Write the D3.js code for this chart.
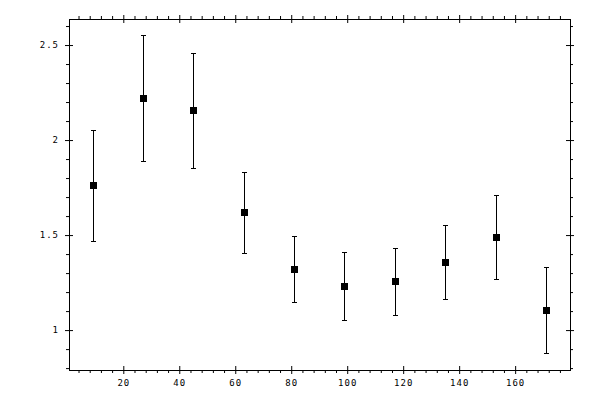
<!DOCTYPE html>
<html>
<head>
<meta charset="utf-8">
<script src="https://cdn.jsdelivr.net/npm/d3@7"></script>
<style>
  body { margin: 0; background: #fff; }
  svg { display: block; }
  .tick text { font-family: 'DejaVu Sans Mono', monospace; font-size: 9px; fill: #000; letter-spacing: 1px; }
</style>
</head>
<body>
<div id="chart"></div>
<script>
// data
const xValues = [9, 27, 45, 63, 81, 99, 117, 135, 153, 171];
const yValues = [1.762, 2.219, 2.156, 1.619, 1.319, 1.230, 1.256, 1.356, 1.488, 1.104];
const yLower  = [1.467, 1.888, 1.851, 1.404, 1.146, 1.051, 1.077, 1.162, 1.267, 0.877];
const yUpper  = [2.054, 2.553, 2.456, 1.833, 1.493, 1.409, 1.430, 1.551, 1.709, 1.330];

const xMajorTicks = [20, 40, 60, 80, 100, 120, 140, 160];
const xMinorTicks = [4, 8, 12, 16, 24, 28, 32, 36, 44, 48, 52, 56, 64, 68, 72, 76,
  84, 88, 92, 96, 104, 108, 112, 116, 124, 128, 132, 136, 144, 148, 152, 156,
  164, 168, 172, 176];
const yMajorTicks = [1, 1.5, 2, 2.5];
const yMinorTicks = [0.8, 0.9, 1.1, 1.2, 1.3, 1.4, 1.6, 1.7, 1.8, 1.9, 2.1, 2.2, 2.3, 2.4, 2.6];
const yTickLabels = ['1', '1.5', '2', '2.5'];

const data = xValues.map((x, i) => ({ x: x, y: yValues[i], lo: yLower[i], hi: yUpper[i] }));

const
  totalWidth = 600,
  totalHeight = 400;
const
  frame = {
    left: 69,
    right: 570,
    top: 19,
    bottom: 370
  };

const svg = d3.select('#chart').append('svg')
  .attr('width', totalWidth)
  .attr('height', totalHeight);

//--------------------- Scales ---------------------------------------------------
const xScale = d3.scaleLinear()
  .domain([0.6, 179.6])
  .range([frame.left, frame.right]);

const yScale = d3.scaleLinear()
  .domain([0.79, 2.637])
  .range([frame.bottom, frame.top]);

//--------------------- Axes -----------------------------------------------------
function styleAxis(g){
  g.selectAll('path').style('stroke', '#000');
  g.selectAll('line').style('stroke', '#000');
}

// bottom
svg.append('g').attr('transform', 'translate(0,' + frame.bottom + ')')
  .call(d3.axisBottom(xScale).tickValues(xMajorTicks).tickSize(4).tickSizeOuter(0).tickPadding(6).tickFormat(d3.format('d')))
  .call(styleAxis);
svg.append('g').attr('transform', 'translate(0,' + frame.bottom + ')')
  .call(d3.axisBottom(xScale).tickValues(xMajorTicks).tickSize(-4).tickSizeOuter(0).tickFormat(''))
  .call(styleAxis);
svg.append('g').attr('transform', 'translate(0,' + frame.bottom + ')')
  .call(d3.axisBottom(xScale).tickValues(xMinorTicks).tickSize(3).tickSizeOuter(0).tickFormat(''))
  .call(styleAxis);

// top
svg.append('g').attr('transform', 'translate(0,' + frame.top + ')')
  .call(d3.axisTop(xScale).tickValues(xMajorTicks).tickSize(4).tickSizeOuter(0).tickFormat(''))
  .call(styleAxis);
svg.append('g').attr('transform', 'translate(0,' + frame.top + ')')
  .call(d3.axisTop(xScale).tickValues(xMajorTicks).tickSize(-4).tickSizeOuter(0).tickFormat(''))
  .call(styleAxis);
svg.append('g').attr('transform', 'translate(0,' + frame.top + ')')
  .call(d3.axisTop(xScale).tickValues(xMinorTicks).tickSize(3).tickSizeOuter(0).tickFormat(''))
  .call(styleAxis);

// left
svg.append('g').attr('transform', 'translate(' + frame.left + ',0)')
  .call(d3.axisLeft(yScale).tickValues(yMajorTicks).tickSize(4).tickSizeOuter(0).tickPadding(6)
    .tickFormat((d, i) => yTickLabels[i]))
  .call(styleAxis);
svg.append('g').attr('transform', 'translate(' + frame.left + ',0)')
  .call(d3.axisLeft(yScale).tickValues(yMajorTicks).tickSize(-4).tickSizeOuter(0).tickFormat(''))
  .call(styleAxis);
svg.append('g').attr('transform', 'translate(' + frame.left + ',0)')
  .call(d3.axisLeft(yScale).tickValues(yMinorTicks).tickSize(3).tickSizeOuter(0).tickFormat(''))
  .call(styleAxis);

// right
svg.append('g').attr('transform', 'translate(' + frame.right + ',0)')
  .call(d3.axisRight(yScale).tickValues(yMajorTicks).tickSize(4).tickSizeOuter(0).tickFormat(''))
  .call(styleAxis);
svg.append('g').attr('transform', 'translate(' + frame.right + ',0)')
  .call(d3.axisRight(yScale).tickValues(yMajorTicks).tickSize(-4).tickSizeOuter(0).tickFormat(''))
  .call(styleAxis);
svg.append('g').attr('transform', 'translate(' + frame.right + ',0)')
  .call(d3.axisRight(yScale).tickValues(yMinorTicks).tickSize(3).tickSizeOuter(0).tickFormat(''))
  .call(styleAxis);

//--------------------- Error bars -----------------------------------------------
const capHalf = 2.5,
  markerSize = 7;

const bars = svg.append('g')
  .selectAll('g')
  .data(data)
  .enter()
  .append('g')
  .attr('stroke', '#000')
  .attr('stroke-width', 1);

const px = d => Math.round(xScale(d.x)) + 0.5;

bars.append('line')
  .attr('x1', px).attr('x2', px)
  .attr('y1', d => Math.round(yScale(d.hi)) + 0.5)
  .attr('y2', d => Math.round(yScale(d.lo)) + 0.5);

bars.append('line')
  .attr('x1', d => px(d) - capHalf).attr('x2', d => px(d) + capHalf)
  .attr('y1', d => Math.round(yScale(d.hi)) + 0.5)
  .attr('y2', d => Math.round(yScale(d.hi)) + 0.5);

bars.append('line')
  .attr('x1', d => px(d) - capHalf).attr('x2', d => px(d) + capHalf)
  .attr('y1', d => Math.round(yScale(d.lo)) + 0.5)
  .attr('y2', d => Math.round(yScale(d.lo)) + 0.5);

//--------------------- Markers --------------------------------------------------
svg.append('g')
  .selectAll('rect')
  .data(data)
  .enter()
  .append('rect')
  .attr('x', d => px(d) - markerSize / 2)
  .attr('y', d => Math.round(yScale(d.y)) + 0.5 - markerSize / 2)
  .attr('width', markerSize)
  .attr('height', markerSize)
  .attr('fill', '#000');
</script>
</body>
</html>
